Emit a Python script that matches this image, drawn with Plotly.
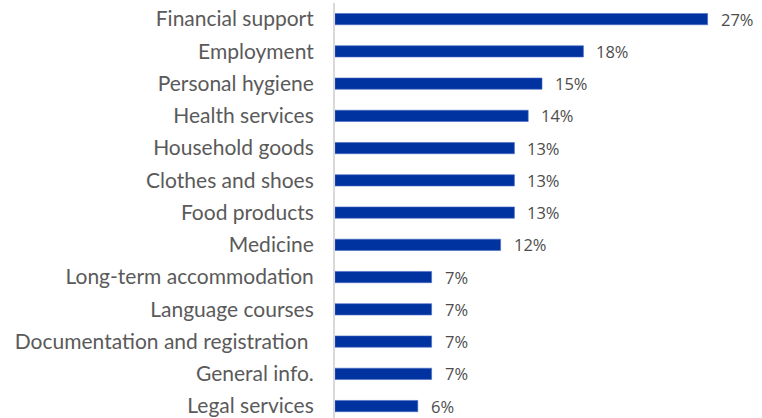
import plotly.graph_objects as go

# Share of respondents naming each type of support needed (%)
categories = [
    "Financial support",
    "Employment",
    "Personal hygiene",
    "Health services",
    "Household goods",
    "Clothes and shoes",
    "Food products",
    "Medicine",
    "Long-term accommodation",
    "Language courses",
    "Documentation and registration ",
    "General info.",
    "Legal services",
]
values = [27, 18, 15, 14, 13, 13, 13, 12, 7, 7, 7, 7, 6]
value_labels = [f"{v}%" for v in values]

BAR_COLOR = "#0033a0"
TEXT_GREY = "#5a5a5a"

fig = go.Figure(
    go.Bar(
        x=values,
        y=categories,
        orientation="h",
        width=0.35,
        marker=dict(color=BAR_COLOR, line=dict(color="#4a6cc4", width=0.6)),
        hoverinfo="skip",
    )
)

# value labels just past the end of each bar
for cat, v, lab in zip(categories, values, value_labels):
    fig.add_annotation(
        x=v, y=cat, text=lab, showarrow=False,
        xanchor="left", yanchor="middle", xshift=11,
        font=dict(family="Open Sans", size=16.5, color="#4d4d4d"),
    )

fig.update_layout(
    width=762,
    height=418,
    margin=dict(l=335, r=0, t=3, b=0),
    paper_bgcolor="white",
    plot_bgcolor="white",
    showlegend=False,
    xaxis=dict(
        range=[0, 30.94],
        visible=False,
        fixedrange=True,
    ),
    yaxis=dict(
        type="category",
        categoryorder="array",
        categoryarray=categories,
        range=[12.37, -0.5],
        showline=True,
        linecolor="#d9d9d9",
        linewidth=2,
        showgrid=False,
        ticks="",
        ticklabelstandoff=15,
        tickfont=dict(family="Lato", size=21, color=TEXT_GREY),
        fixedrange=True,
    ),
)

fig.write_html("out.html")
